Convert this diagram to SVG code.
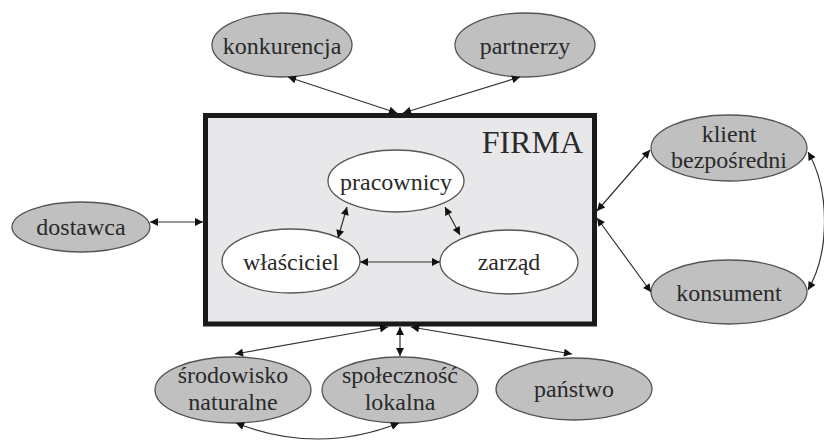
<svg xmlns="http://www.w3.org/2000/svg" width="824" height="440" viewBox="0 0 824 440">
<defs>
<marker id="ah" viewBox="0 0 10 10" refX="10" refY="5" markerWidth="10" markerHeight="8" markerUnits="userSpaceOnUse" orient="auto-start-reverse">
<path d="M0,0 L10,5 L0,10 z" fill="#111"/>
</marker>
<style>
.outer ellipse{fill:#c0c0c1;stroke:#555;stroke-width:1.3}
.inner ellipse{fill:#fff;stroke:#555;stroke-width:1.3}
text{font-family:'Liberation Serif','DejaVu Serif',serif;font-size:24px;fill:#2a2a2a;text-anchor:middle}
.conn path{fill:none;stroke:#333;stroke-width:1.2;marker-start:url(#ah);marker-end:url(#ah)}
</style>
</defs>
<rect width="824" height="440" fill="#fff"/>
<g id="firma">
<rect x="205.5" y="115.5" width="389" height="208.5" fill="#e8e8ea" stroke="#1a1a1a" stroke-width="5"/>
<text x="583" y="153" font-size="32" text-anchor="end" style="font-size:32px;text-anchor:end">FIRMA</text>
</g>
<g id="pracownicy" class="inner"><ellipse cx="396" cy="181" rx="68" ry="31"/><text x="396" y="190">pracownicy</text></g>
<g id="wlasciciel" class="inner"><ellipse cx="291" cy="261" rx="69" ry="32"/><text x="291" y="270">właściciel</text></g>
<g id="zarzad" class="inner"><ellipse cx="509" cy="262" rx="69" ry="32"/><text x="509" y="270">zarząd</text></g>
<g id="konkurencja" class="outer"><ellipse cx="282" cy="45" rx="70" ry="32"/><text x="282" y="54">konkurencja</text></g>
<g id="partnerzy" class="outer"><ellipse cx="525" cy="45" rx="70" ry="32"/><text x="525" y="54">partnerzy</text></g>
<g id="dostawca" class="outer"><ellipse cx="81" cy="227" rx="69" ry="25"/><text x="81" y="235">dostawca</text></g>
<g id="klient" class="outer"><ellipse cx="729" cy="148" rx="78" ry="33"/><text x="729" y="142">klient</text><text x="729" y="168">bezpośredni</text></g>
<g id="konsument" class="outer"><ellipse cx="729" cy="292" rx="78" ry="32"/><text x="729" y="301">konsument</text></g>
<g id="srodowisko" class="outer"><ellipse cx="233" cy="390" rx="78" ry="33"/><text x="233" y="383">środowisko</text><text x="233" y="410">naturalne</text></g>
<g id="spolecznosc" class="outer"><ellipse cx="400" cy="390" rx="78" ry="33"/><text x="400" y="383">społeczność</text><text x="400" y="410">lokalna</text></g>
<g id="panstwo" class="outer"><ellipse cx="574" cy="389" rx="78" ry="31"/><text x="574" y="397">państwo</text></g>
<g id="connectors" class="conn">
<path d="M347,207 L338,238"/>
<path d="M445,207 L460,235"/>
<path d="M360,262 L440,262"/>
<path d="M288,77 L397,113"/>
<path d="M520,77 L403,113"/>
<path d="M150,222 L203,222"/>
<path d="M650,150 L597,211"/>
<path d="M597,218 L651,292"/>
<path d="M808,152 C830,190 830,252 808,290"/>
<path d="M388,327 L235,354"/>
<path d="M400,327 L400,356"/>
<path d="M411,327 L572,354"/>
<path d="M236,423 Q318,455 399,423"/>
</g>
</svg>
